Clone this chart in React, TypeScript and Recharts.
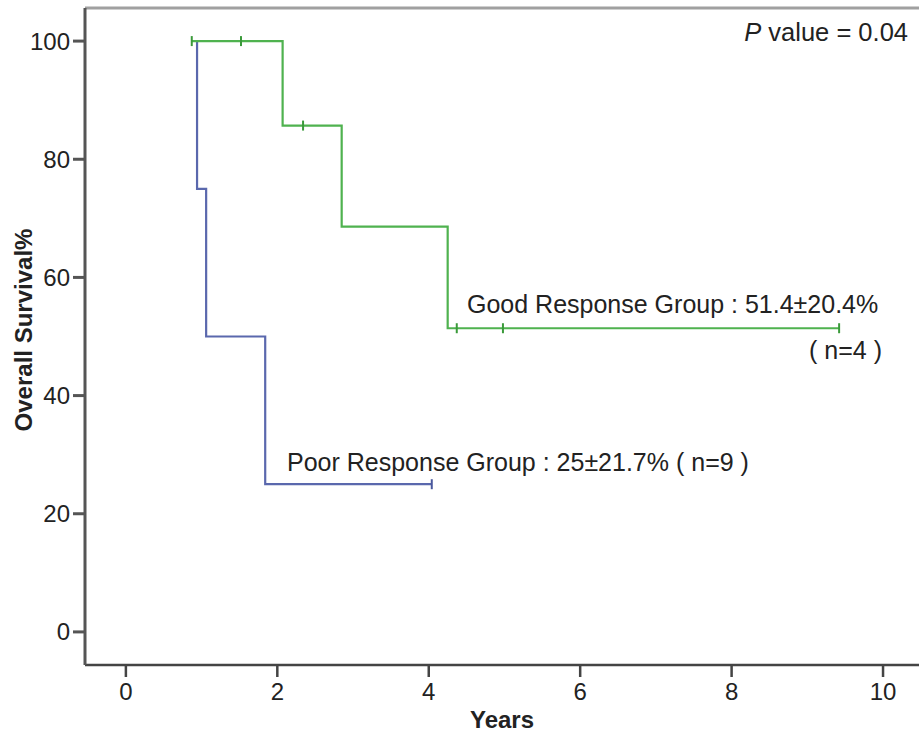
import { LineChart, Line, XAxis, YAxis, ReferenceLine } from "recharts";

// Good response group (Kaplan-Meier steps)
const goodYears = [0.87, 1.52, 2.07, 2.34, 2.85, 4.25, 4.37, 4.98, 9.42];
const goodSurvival = [100, 100, 85.7, 85.7, 68.6, 51.4, 51.4, 51.4, 51.4];
const goodCensored = [true, true, false, true, false, false, true, true, true];

// Poor response group
const poorYears = [0.94, 0.94, 1.06, 1.84, 4.04];
const poorSurvival = [100, 75, 50, 25, 25];
const poorCensored = [false, false, false, false, true];

const xTicks = [0, 2, 4, 6, 8, 10];
const yTicks = [0, 20, 40, 60, 80, 100];

const goodLabel = "Good Response Group : 51.4±20.4%";
const goodN = "( n=4 )";
const poorLabel = "Poor Response Group : 25±21.7% ( n=9 )";
const pValueLabel = "value = 0.04";

const X_DOMAIN: [number, number] = [-0.54, 10.475];
const Y_DOMAIN: [number, number] = [-5.6, 105.6];

const FONT = '"Liberation Sans", Arial, sans-serif';
const GREEN = "#4fb24f";
const BLUE = "#5a68ad";

const goodData = goodYears.map((t, i) => ({
  t,
  s: goodSurvival[i],
  censored: goodCensored[i],
}));

const poorData = poorYears.map((t, i) => ({
  t,
  s: poorSurvival[i],
  censored: poorCensored[i],
}));

function censorMark(color: string) {
  return (props: any) => {
    const { cx, cy, payload, index } = props;
    if (!payload || !payload.censored) {
      return <g key={`n-${index}`} />;
    }
    return (
      <line
        key={`c-${index}`}
        x1={cx}
        x2={cx}
        y1={cy - 5}
        y2={cy + 5}
        stroke={color}
        strokeWidth={2}
      />
    );
  };
}

const tickStyle = { fontSize: 24, fill: "#222", fontFamily: FONT };

export default function App() {
  return (
    <div style={{ position: "absolute", left: 0, top: 0, width: 919, height: 735, background: "#fff" }}>
      <LineChart
        width={919}
        height={735}
        margin={{ top: 8, right: 0, bottom: 0, left: 0 }}
      >
        <XAxis
          type="number"
          dataKey="t"
          domain={X_DOMAIN}
          ticks={xTicks}
          allowDataOverflow
          height={70}
          tickSize={12}
          tickMargin={6}
          stroke="#444"
          strokeWidth={2.5}
          tick={tickStyle}
        />
        <YAxis
          type="number"
          dataKey="s"
          domain={Y_DOMAIN}
          ticks={yTicks}
          allowDataOverflow
          width={85}
          tickSize={12}
          tickMargin={3}
          stroke="#555"
          strokeWidth={3}
          tick={tickStyle}
        />
        <ReferenceLine y={Y_DOMAIN[1]} stroke="#a0a0a0" strokeWidth={3} />
        <Line
          data={poorData}
          dataKey="s"
          type="stepAfter"
          stroke={BLUE}
          strokeWidth={2.2}
          dot={censorMark("#4a589d")}
          activeDot={false}
          isAnimationActive={false}
        />
        <Line
          data={goodData}
          dataKey="s"
          type="stepAfter"
          stroke={GREEN}
          strokeWidth={2.2}
          dot={censorMark("#3a9a3a")}
          activeDot={false}
          isAnimationActive={false}
        />
      </LineChart>
      <svg
        width={919}
        height={735}
        style={{ position: "absolute", left: 0, top: 0, pointerEvents: "none" }}
        fontFamily={FONT}
        fill="#222"
      >
        <text x={908} y={41} fontSize={25.5} textAnchor="end">
          <tspan fontStyle="italic">P</tspan> {pValueLabel}
        </text>
        <text x={467} y={313} fontSize={25}>
          {goodLabel}
        </text>
        <text x={882} y={359} fontSize={25} textAnchor="end">
          {goodN}
        </text>
        <text x={287} y={471} fontSize={25}>
          {poorLabel}
        </text>
        <text x={502} y={728} fontSize={24} fontWeight="bold" textAnchor="middle">
          Years
        </text>
        <text
          x={32}
          y={330}
          fontSize={24}
          fontWeight="bold"
          textAnchor="middle"
          transform="rotate(-90, 32, 330)"
        >
          Overall Survival%
        </text>
      </svg>
    </div>
  );
}
